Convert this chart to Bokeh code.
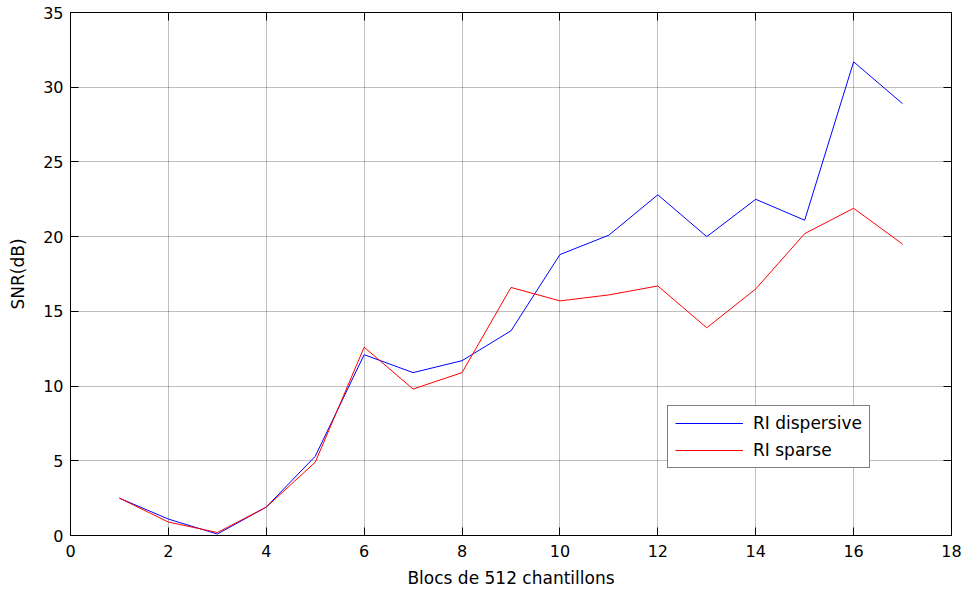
from bokeh.plotting import figure
from bokeh.models import (Range1d, LinearAxis, SingleIntervalTicker, Legend, LegendItem,
                          CustomLabelingPolicy)
from bokeh.embed import file_html
from bokeh.resources import INLINE

blocks = list(range(1, 18))
ri_dispersive = [2.5, 1.1, 0.1, 1.9, 5.3, 12.1, 10.9, 11.7, 13.7, 18.8, 20.1, 22.8, 20.0, 22.5, 21.1, 31.7, 28.9]
ri_sparse = [2.5, 0.9, 0.2, 1.9, 4.9, 12.6, 9.8, 10.9, 16.6, 15.7, 16.1, 16.7, 13.9, 16.5, 20.2, 21.9, 19.5]
x_label = "Blocs de 512 chantillons"
y_label = "SNR(dB)"

FONT = "DejaVu Sans"

p = figure(width=966, height=590, output_backend="svg", toolbar_location=None,
           x_range=Range1d(0, 18), y_range=Range1d(0, 35),
           min_border_left=70, min_border_right=13, min_border_top=12, min_border_bottom=54,
           x_axis_location=None, y_axis_location=None)
p.background_fill_color = "white"
p.border_fill_color = "white"
p.outline_line_color = "black"
p.outline_line_width = 1

xt = SingleIntervalTicker(interval=2)
yt = SingleIntervalTicker(interval=5)

HIDE_CODE = """
for (let i = 0; i < indices.size; i++) { indices.unset(i); }
return indices;
"""

def style_axis(ax, labels=True):
    ax.major_tick_in = 8
    ax.major_tick_out = 0
    ax.minor_tick_in = 0
    ax.minor_tick_out = 0
    ax.axis_line_color = "black"
    ax.axis_line_width = 1
    ax.major_tick_line_color = "black"
    ax.major_tick_line_width = 1
    if labels:
        ax.major_label_text_font = FONT
        ax.major_label_text_font_size = "16px"
        ax.major_label_text_color = "black"
        ax.axis_label_text_font = FONT
        ax.axis_label_text_font_size = "17px"
        ax.axis_label_text_font_style = "normal"
        ax.axis_label_text_color = "black"
    else:
        ax.major_label_policy = CustomLabelingPolicy(code=HIDE_CODE)
        ax.major_label_standoff = 0

bx = LinearAxis(ticker=xt, axis_label=x_label)
style_axis(bx)
bx.major_label_standoff = 9
bx.axis_label_standoff = 8
p.add_layout(bx, "below")

ly = LinearAxis(ticker=yt, axis_label=y_label)
style_axis(ly)
ly.major_label_standoff = 7
ly.axis_label_standoff = 12
p.add_layout(ly, "left")

tx = LinearAxis(ticker=xt)
style_axis(tx, labels=False)
p.add_layout(tx, "above")

ry = LinearAxis(ticker=yt)
style_axis(ry, labels=False)
p.add_layout(ry, "right")

p.xgrid.ticker = xt
p.ygrid.ticker = yt
for g in (p.xgrid, p.ygrid):
    g.grid_line_color = "#000000"
    g.grid_line_alpha = 0.5
    g.grid_line_dash = "1 1"
    g.grid_line_width = 1

r1 = p.line(blocks, ri_dispersive, line_color="#0000ff", line_width=1)
r2 = p.line(blocks, ri_sparse, line_color="#ff0000", line_width=1)

legend = Legend(items=[LegendItem(label="RI dispersive", renderers=[r1]),
                       LegendItem(label="RI sparse", renderers=[r2])],
                location=(597, 67))
legend.label_text_font = FONT
legend.label_text_font_size = "17px"
legend.label_text_color = "black"
legend.glyph_width = 68
legend.glyph_height = 20
legend.label_height = 20
legend.label_standoff = 10
legend.padding = 7
legend.spacing = 7
legend.margin = 0
legend.border_line_color = "black"
legend.border_line_width = 1
legend.background_fill_color = "white"
legend.background_fill_alpha = 1
p.add_layout(legend, "center")

open("out.html", "w").write(file_html(p, INLINE))
